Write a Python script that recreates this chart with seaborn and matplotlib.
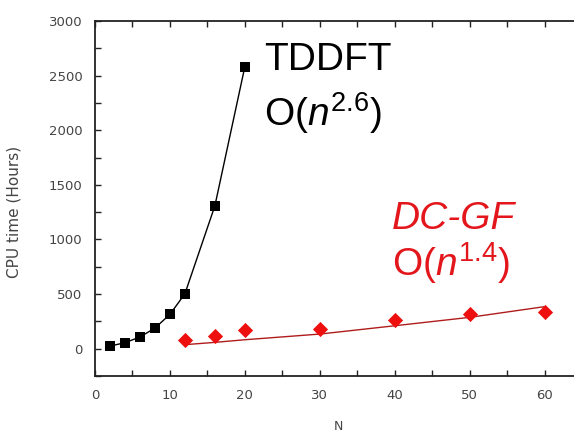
import numpy as np
import pandas as pd
import matplotlib
matplotlib.use('Agg')
import matplotlib.pyplot as plt
from matplotlib.ticker import MultipleLocator
import seaborn as sns

# values
tddft_n = [2, 4, 6, 8, 10, 12, 16, 20]
tddft_cpu = [24, 55, 107, 189, 314, 503, 1308, 2582]

dcgf_n = [12, 16, 20, 30, 40, 50, 60]
dcgf_cpu = [82, 113, 168, 180, 259, 314, 336]

# fitted O(n^1.4) curve as drawn in the picture
dcgf_fit_n = [12, 16, 20, 30, 40, 50, 60]
dcgf_fit_cpu = [37, 58, 82, 134, 210, 287, 385]

df_td = pd.DataFrame({'N': tddft_n, 'cpu': tddft_cpu})
df_dc = pd.DataFrame({'N': dcgf_n, 'cpu': dcgf_cpu})
df_fit = pd.DataFrame({'N': dcgf_fit_n, 'cpu': dcgf_fit_cpu})

sns.set_style('ticks')
plt.rcParams['font.family'] = ['DejaVu Sans']
plt.rcParams['mathtext.fontset'] = 'custom'
plt.rcParams['mathtext.rm'] = 'Liberation Sans'
plt.rcParams['mathtext.it'] = 'Liberation Sans:italic'
plt.rcParams['mathtext.bf'] = 'Liberation Sans:bold'

fig = plt.figure(figsize=(5.74, 4.32), dpi=100)
ax = fig.add_axes([0.1655, 0.1296, 0.8485, 0.8218])

sns.lineplot(data=df_td, x='N', y='cpu', color='black', linewidth=1.0, ax=ax)
sns.scatterplot(data=df_td, x='N', y='cpu', color='black', marker='s', s=55,
                edgecolor='black', linewidth=0, ax=ax, zorder=3)

sns.lineplot(data=df_fit, x='N', y='cpu', color='#b01c1c', linewidth=1.0, ax=ax)
sns.scatterplot(data=df_dc, x='N', y='cpu', color='#ee0f0f', marker='D', s=60,
                edgecolor='#ee0f0f', linewidth=0, ax=ax, zorder=3)

ax.set_xlim(0, 65)
ax.set_ylim(-250, 3000)
ax.xaxis.set_major_locator(MultipleLocator(10))
ax.xaxis.set_minor_locator(MultipleLocator(5))
ax.yaxis.set_major_locator(MultipleLocator(500))
ax.yaxis.set_minor_locator(MultipleLocator(250))
ax.tick_params(which='both', direction='in', top=True, right=True,
               length=4, width=1.0, colors='#222222', labelcolor='#444444',
               labelsize=9.5)
ax.tick_params(which='major', pad=9)
for sp in ax.spines.values():
    sp.set_linewidth(1.3)
    sp.set_color('#222222')

ax.set_xlabel('N', fontsize=9, color='#444444')
ax.set_ylabel('CPU time (Hours)', fontsize=11, color='#444444')
ax.xaxis.set_label_coords(0.499, -0.125)
ax.yaxis.set_label_coords(-0.15, 0.462)

big = ['Liberation Sans', 'DejaVu Sans']
ax.text(22.6, 2644, 'TDDFT', fontsize=28, family=big, color='black',
        va='center', ha='left')
ax.text(22.6, 2160, r'O($\mathit{n}^{2.6}$)', fontsize=28, family=big,
        color='black', va='center', ha='left')
ax.text(39.6, 1190, 'DC-GF', fontsize=28, family=big, style='italic',
        color='#e3161c', va='center', ha='left')
ax.text(39.6, 780, r'O($\mathit{n}^{1.4}$)', fontsize=28, family=big,
        color='#e3161c', va='center', ha='left')

fig.savefig('out.png', dpi=100)
